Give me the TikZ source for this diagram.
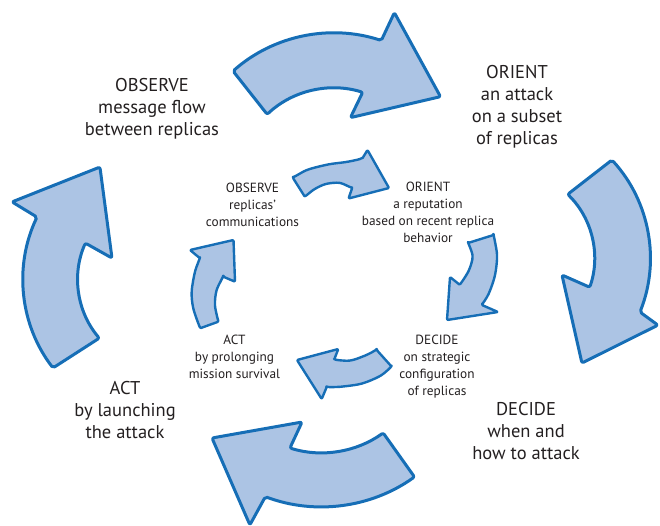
\documentclass[tikz,border=0pt]{standalone}
\usepackage{fontspec}
\setmainfont{PT Sans}
\definecolor{arrowfill}{RGB}{172,196,228}
\definecolor{arrowline}{RGB}{22,110,182}
\definecolor{txt}{RGB}{35,31,32}
\begin{document}
\begin{tikzpicture}[x=1pt,y=-1pt,
  bigarrow/.style={draw=arrowline, fill=arrowfill, line width=3pt, line join=round, rounded corners=2pt},
  smallarrow/.style={draw=arrowline, fill=arrowfill, line width=2.4pt, line join=round, rounded corners=1pt},
  outerlabel/.style={text=txt, font=\fontsize{18.5}{22}\selectfont, align=center, inner sep=0pt},
  innerlabel/.style={text=txt, font=\fontsize{13.3}{17}\selectfont, align=center, inner sep=0pt}]
\useasboundingbox (0,0) rectangle (660,525);
\clip (0,0) rectangle (660,525);

% outer OODA loop: four bent arrows running clockwise
\draw[bigarrow, shift={(334,186)}]
  (-131.3:153) arc[start angle=-131.3, end angle=-72, radius=153]
  -- (-70.8:183.6) -- (-40:139) -- (-76.5:70.3)
  -- (-73:98) arc[start angle=-73, end angle=-133, radius=98] -- cycle;
\draw[bigarrow, shift={(504.5,258.4)}]
  (-42.5:145.7) arc[start angle=-42.5, end angle=21.6, radius=145.7]
  -- (23.5:167.3) -- (53.5:130.2) -- (16.1:59.8)
  -- (18.7:90) arc[start angle=18.7, end angle=-45.4, radius=90] -- cycle;
\draw[bigarrow, shift={(321.2,345.7)}]
  (54.6:161) arc[start angle=54.6, end angle=110.3, radius=161]
  -- (111.7:192.9) -- (139.8:143) -- (104.1:78.7)
  -- (107:107) arc[start angle=107, end angle=54.6, radius=107] -- cycle;
\draw[bigarrow, shift={(168.8,279.4)}]
  (142.6:145.8) arc[start angle=142.6, end angle=205.3, radius=145.8]
  -- (206.3:174.9) -- (238.5:131.8) -- (200.6:60.7)
  -- (203.5:91) arc[start angle=203.5, end angle=139.8, radius=91] -- cycle;

% inner loop
\draw[smallarrow] plot[smooth] coordinates {(293,178) (307,170) (328,164.5) (346,162) (362,159)}
  -- (367.5,150) -- (389,188) -- (348.5,198.5)
  -- plot[smooth] coordinates {(352,188.5) (340,183) (326,184) (314,189.5) (305,197)} -- cycle;
\draw[smallarrow] plot[smooth] coordinates {(493.5,235) (497,255) (495,275) (489,293) (482,305)}
  -- (498,312) -- (447,320) -- (450,277)
  -- plot[smooth] coordinates {(460,285) (469,270) (472.5,256) (468,243)} -- cycle;
\draw[smallarrow] plot[smooth] coordinates {(391.7,366.7) (380,376) (362,383.5) (343,386.5) (326.5,387.5)}
  -- (321.7,399) -- (297,360) -- (338.3,349)
  -- plot[smooth] coordinates {(334,360) (350,360.5) (364,356) (376.7,350)} -- cycle;
\draw[smallarrow] plot[smooth] coordinates {(200,328.3) (193.3,308.3) (191.7,291.7) (195,271.7) (200,258.3)}
  -- (190,250) -- (233.5,240) -- (235,281.7)
  -- plot[smooth] coordinates {(223.3,276.7) (216.7,290) (215,305) (218.3,321.7)} -- cycle;

% outer labels
\node[outerlabel] (obsout) at (152,109) {OBSERVE\\message flow\\between replicas};
\node[outerlabel] (oriout) at (517,107) {ORIENT\\an attack\\on a subset\\of replicas};
\node[outerlabel] (decout) at (526,431) {DECIDE\\when and\\how to attack};
\node[outerlabel] (actout) at (125,410) {ACT\\by launching\\the attack};

% inner labels
\node[innerlabel] (obsin) at (252.5,205) {OBSERVE\\replicas’\\communications};
\node[innerlabel] (oriin) at (428,212.5) {ORIENT\\a reputation\\based on recent replica\\behavior};
\node[innerlabel] (decin) at (437,367) {DECIDE\\on strategic\\configuration\\of replicas};
\node[innerlabel] (actin) at (234.5,356.5) {ACT\\by prolonging\\mission survival};
\end{tikzpicture}
\end{document}
